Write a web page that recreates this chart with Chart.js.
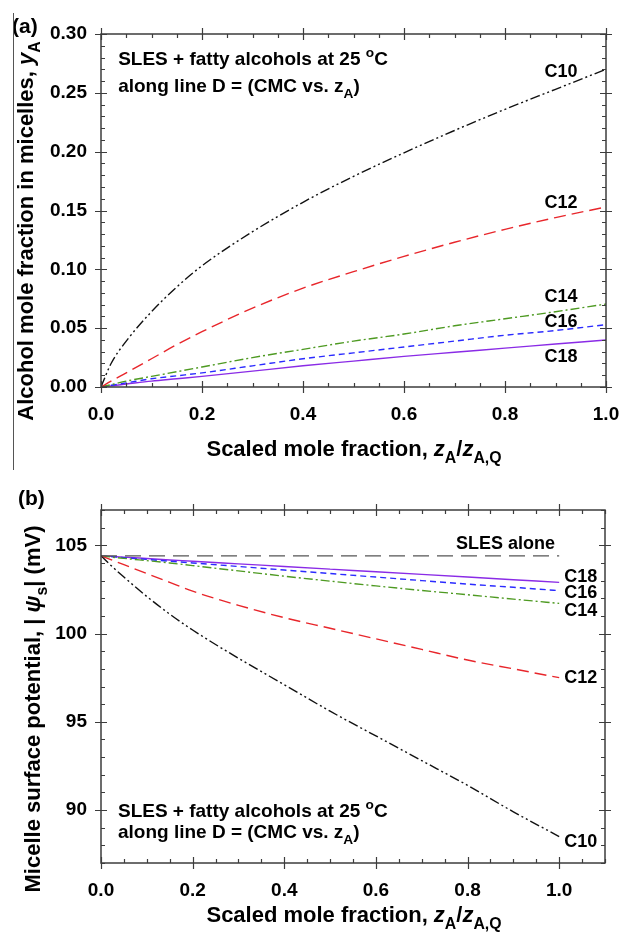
<!DOCTYPE html>
<html>
<head>
<meta charset="utf-8">
<script src="https://cdn.jsdelivr.net/npm/chart.js@4.4.1/dist/chart.umd.min.js"></script>
<style>
  html, body { margin: 0; padding: 0; background: #fff; }
  #wrap { position: relative; width: 620px; height: 938px; }
  #wrap canvas { position: absolute; left: 0; }
  #topChart { top: 0; }
  #botChart { top: 469px; }
  #edge { position: absolute; left: 13px; top: 13px; width: 0; height: 457px; border-left: 1.5px solid #555; }
</style>
</head>
<body>
<div id="wrap">
  <canvas id="topChart" width="620" height="469"></canvas>
  <canvas id="botChart" width="620" height="469"></canvas>
  <div id="edge"></div>
</div>
<script>
// ===== DATA =====
const zScaled = [0, 0.02, 0.05, 0.1, 0.15, 0.2, 0.3, 0.4, 0.5, 0.6, 0.7, 0.8, 0.9, 1.0];

// (a) alcohol mole fraction in micelles, yA
const yC10 = [0, 0.020, 0.039, 0.064, 0.085, 0.103, 0.132, 0.157, 0.179, 0.199, 0.218, 0.236, 0.253, 0.270];
const yC12 = [0, 0.005, 0.012, 0.024, 0.036, 0.047, 0.067, 0.084, 0.098, 0.111, 0.123, 0.134, 0.144, 0.153];
const yC14 = [0, 0.002, 0.005, 0.009, 0.013, 0.017, 0.025, 0.032, 0.039, 0.045, 0.052, 0.058, 0.064, 0.0705];
const yC16 = [0, 0.0015, 0.0035, 0.007, 0.0095, 0.012, 0.018, 0.024, 0.029, 0.034, 0.039, 0.044, 0.048, 0.053];
const yC18 = [0, 0.001, 0.0025, 0.005, 0.007, 0.009, 0.0135, 0.018, 0.022, 0.026, 0.0295, 0.033, 0.0365, 0.040];

// (b) micelle surface potential |psi_s| (mV)
const psiSLES = [104.4, 104.4, 104.4, 104.4, 104.4, 104.4, 104.4, 104.4, 104.4, 104.4, 104.4, 104.4, 104.4, 104.4];
const psiC10 = [104.4, 103.9, 103.2, 102.1, 101.1, 100.2, 98.6, 97.1, 95.6, 94.2, 92.8, 91.4, 89.9, 88.5];
const psiC12 = [104.4, 104.2, 103.9, 103.4, 102.9, 102.4, 101.6, 100.9, 100.3, 99.7, 99.1, 98.5, 98.0, 97.5];
const psiC14 = [104.4, 104.34, 104.26, 104.13, 104.0, 103.85, 103.55, 103.25, 102.97, 102.7, 102.44, 102.2, 101.95, 101.71];
const psiC16 = [104.4, 104.36, 104.3, 104.2, 104.1, 104.0, 103.8, 103.6, 103.4, 103.2, 103.0, 102.8, 102.62, 102.43];
const psiC18 = [104.4, 104.37, 104.33, 104.25, 104.17, 104.1, 103.95, 103.8, 103.65, 103.5, 103.35, 103.2, 103.05, 102.9];

// tick labels
const xTicks = [0, 0.2, 0.4, 0.6, 0.8, 1.0];
const yTicksTop = [0, 0.05, 0.10, 0.15, 0.20, 0.25, 0.30];
const yTicksBot = [90, 95, 100, 105];

// ===== STYLE =====
const FONT = '"Liberation Sans", Arial, Helvetica, sans-serif';
const AXIS = '#3c3c3c';
const style = {
  C10: { color: '#111111', dash: [10, 3, 2, 3, 2, 3] },
  C12: { color: '#e8262b', dash: [12, 6] },
  C14: { color: '#4e9a22', dash: [9, 3, 2, 3] },
  C16: { color: '#2b2bff', dash: [6, 4] },
  C18: { color: '#8a2be6', dash: [] },
  SLES: { color: '#555555', dash: [16, 8] }
};

function pts(ys) {
  return zScaled.map((x, i) => ({ x: x, y: ys[i] }));
}

function line(key, ys) {
  return {
    label: key,
    data: pts(ys),
    borderColor: style[key].color,
    borderDash: style[key].dash,
    borderWidth: 1.4,
    pointRadius: 0,
    cubicInterpolationMode: 'monotone',
    fill: false
  };
}

// draw text made of pieces: {t, it, sub, sup}
function rich(ctx, parts, x, y, size, align, angle) {
  ctx.save();
  ctx.translate(x, y);
  if (angle) ctx.rotate(angle);
  ctx.textBaseline = 'alphabetic';
  ctx.textAlign = 'left';
  ctx.fillStyle = '#000';
  const fontOf = p => (p.it ? 'italic ' : '') + 'bold ' + ((p.sub || p.sup) ? size * 0.72 : size) + 'px ' + FONT;
  let w = 0;
  parts.forEach(p => { ctx.font = fontOf(p); w += ctx.measureText(p.t).width; });
  let cx = align === 'center' ? -w / 2 : align === 'right' ? -w : 0;
  parts.forEach(p => {
    ctx.font = fontOf(p);
    const dy = p.sub ? size * 0.3 : p.sup ? -size * 0.45 : 0;
    ctx.fillText(p.t, cx, dy);
    cx += ctx.measureText(p.t).width;
  });
  ctx.restore();
}

// frame + ticks (major crossing, minor inward) on all four sides
const framePlugin = {
  id: 'frame',
  afterDraw(chart, args, o) {
    const ctx = chart.ctx, a = chart.chartArea;
    const sx = chart.scales.x, sy = chart.scales.y;
    ctx.save();
    ctx.strokeStyle = AXIS;
    ctx.lineWidth = 1.5;
    ctx.strokeRect(a.left, a.top, a.right - a.left, a.bottom - a.top);
    ctx.lineWidth = 1.2;
    ctx.beginPath();
    const eps = 1e-9;
    for (let v = sx.min; v <= sx.max + eps; v += o.xMinor) {
      const px = Math.round(sx.getPixelForValue(v)) + 0.5;
      const major = Math.abs(v / o.xMajor - Math.round(v / o.xMajor)) < 1e-6 && v <= o.xMajorMax + eps;
      const out = major ? 6 : 0, inn = major ? 6 : 4;
      ctx.moveTo(px, a.bottom + out); ctx.lineTo(px, a.bottom - inn);
      ctx.moveTo(px, a.top - out); ctx.lineTo(px, a.top + inn);
    }
    for (let v = sy.min; v <= sy.max + eps; v += o.yMinor) {
      const py = Math.round(sy.getPixelForValue(v)) + 0.5;
      const major = Math.abs(v / o.yMajor - Math.round(v / o.yMajor)) < 1e-6;
      const out = major ? 6 : 0, inn = major ? 6 : 4;
      ctx.moveTo(a.left - out, py); ctx.lineTo(a.left + inn, py);
      ctx.moveTo(a.right + out, py); ctx.lineTo(a.right - inn, py);
    }
    ctx.stroke();
    ctx.restore();

    // texts placed in data coordinates
    (o.texts || []).forEach(t => {
      rich(ctx, t.parts, sx.getPixelForValue(t.x), sy.getPixelForValue(t.y), t.size, t.align || 'left', 0);
    });
    // axis titles placed in pixels
    (o.titles || []).forEach(t => {
      rich(ctx, t.parts, t.x, t.y, t.size, t.align || 'center', t.angle || 0);
    });
  }
};

function makeChart(id, datasets, sc) {
  return new Chart(document.getElementById(id), {
    type: 'line',
    data: { datasets: datasets },
    plugins: [framePlugin],
    options: {
      responsive: false,
      animation: false,
      events: [],
      layout: { padding: { left: 0, top: sc.padTop, right: sc.padRight, bottom: 0 } },
      plugins: { legend: { display: false }, tooltip: { enabled: false }, frame: sc.frame },
      scales: {
        x: {
          type: 'linear', min: 0, max: sc.xMax,
          afterBuildTicks: s => { s.ticks = xTicks.map(v => ({ value: v })); },
          afterFit: s => { s.height = sc.xHeight; s.paddingLeft = 0; s.paddingRight = 0; },
          grid: { display: false, drawTicks: false },
          border: { display: false },
          ticks: {
            autoSkip: false, maxRotation: 0, padding: sc.xPad, color: '#000',
            font: { family: FONT, size: 19, weight: 'bold' },
            callback: v => Number(v).toFixed(1)
          }
        },
        y: {
          type: 'linear', min: sc.yMin, max: sc.yMax,
          afterBuildTicks: s => { s.ticks = sc.yTicks.map(v => ({ value: v })); },
          afterFit: s => { s.width = 101; s.paddingTop = 0; s.paddingBottom = 0; },
          grid: { display: false, drawTicks: false },
          border: { display: false },
          ticks: {
            autoSkip: false, padding: 14, color: '#000',
            font: { family: FONT, size: 19, weight: 'bold' },
            callback: sc.yFmt
          }
        }
      }
    }
  });
}

const xTitle = [
  { t: 'Scaled mole fraction, ' }, { t: 'z', it: true }, { t: 'A', sub: true },
  { t: '/' }, { t: 'z', it: true }, { t: 'A,Q', sub: true }
];
const note1 = [{ t: 'SLES + fatty alcohols at 25 ' }, { t: 'o', sup: true }, { t: 'C' }];
const note2 = [{ t: 'along line D = (CMC vs. ' }, { t: 'z' }, { t: 'A', sub: true }, { t: ')' }];

// ===== (a) =====
makeChart('topChart', [
  line('C10', yC10), line('C12', yC12), line('C14', yC14), line('C16', yC16), line('C18', yC18)
], {
  padTop: 34, padRight: 14, xMax: 1.0, xHeight: 82, xPad: 16,
  yMin: 0, yMax: 0.30, yTicks: yTicksTop, yFmt: v => Number(v).toFixed(2),
  frame: {
    xMinor: 0.05, xMajor: 0.2, xMajorMax: 1.0, yMinor: 0.01, yMajor: 0.05,
    texts: [
      { parts: note1, x: 0.034, y: 0.2736, size: 19 },
      { parts: note2, x: 0.034, y: 0.2507, size: 19 },
      { parts: [{ t: 'C10' }], x: 0.911, y: 0.2634, size: 18, align: 'center' },
      { parts: [{ t: 'C12' }], x: 0.911, y: 0.1525, size: 18, align: 'center' },
      { parts: [{ t: 'C14' }], x: 0.911, y: 0.0722, size: 18, align: 'center' },
      { parts: [{ t: 'C16' }], x: 0.911, y: 0.0510, size: 18, align: 'center' },
      { parts: [{ t: 'C18' }], x: 0.911, y: 0.0212, size: 18, align: 'center' }
    ],
    titles: [
      { parts: [{ t: '(a)' }], x: 12, y: 33, size: 21, align: 'left' },
      { parts: xTitle, x: 354, y: 456, size: 22 },
      { parts: [{ t: 'Alcohol mole fraction in micelles, ' }, { t: 'y', it: true }, { t: 'A', sub: true }],
        x: 33, y: 231, size: 22, angle: -Math.PI / 2 }
    ]
  }
});

// ===== (b) =====
makeChart('botChart', [
  line('SLES', psiSLES), line('C10', psiC10), line('C12', psiC12),
  line('C14', psiC14), line('C16', psiC16), line('C18', psiC18)
], {
  padTop: 41, padRight: 15, xMax: 1.1, xHeight: 75, xPad: 16,
  yMin: 87, yMax: 107, yTicks: yTicksBot, yFmt: v => String(v),
  frame: {
    xMinor: 0.05, xMajor: 0.2, xMajorMax: 1.0, yMinor: 1, yMajor: 5,
    texts: [
      { parts: note1, x: 0.037, y: 89.6, size: 19 },
      { parts: note2, x: 0.037, y: 88.42, size: 19 },
      { parts: [{ t: 'SLES alone' }], x: 0.883, y: 104.81, size: 18, align: 'center' },
      { parts: [{ t: 'C18' }], x: 1.047, y: 102.93, size: 18, align: 'center' },
      { parts: [{ t: 'C16' }], x: 1.047, y: 102.02, size: 18, align: 'center' },
      { parts: [{ t: 'C14' }], x: 1.047, y: 100.99, size: 18, align: 'center' },
      { parts: [{ t: 'C12' }], x: 1.047, y: 97.17, size: 18, align: 'center' },
      { parts: [{ t: 'C10' }], x: 1.047, y: 87.89, size: 18, align: 'center' }
    ],
    titles: [
      { parts: [{ t: '(b)' }], x: 18, y: 36, size: 21, align: 'left' },
      { parts: xTitle, x: 354, y: 453, size: 22 },
      { parts: [{ t: 'Micelle surface potential, | ' }, { t: 'ψ', it: true }, { t: 's', sub: true }, { t: '| (mV)' }],
        x: 40, y: 240, size: 22, angle: -Math.PI / 2 }
    ]
  }
});
</script>
</body>
</html>
